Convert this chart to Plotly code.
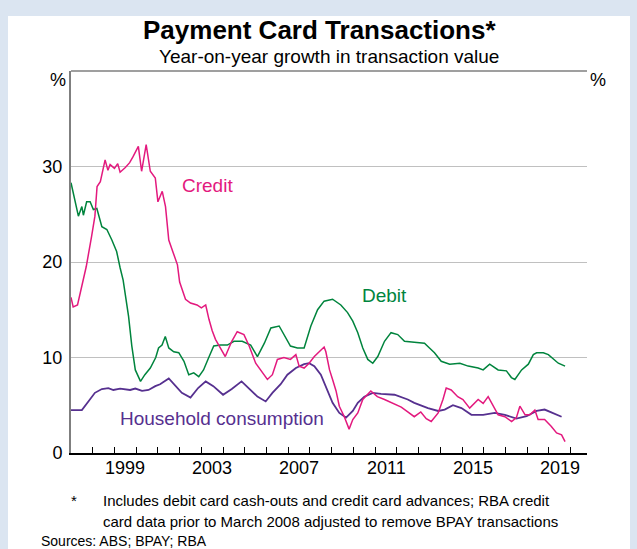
import plotly.graph_objects as go

# ---- data ----
credit_x = [1997.0, 1997.1, 1997.3, 1997.45, 1997.7, 1997.95, 1998.1, 1998.2, 1998.35, 1998.57,
            1998.7, 1998.8, 1999.0, 1999.15, 1999.26, 1999.5, 1999.7, 1999.85, 1999.95, 2000.1,
            2000.25, 2000.46, 2000.65, 2000.88, 2001.0, 2001.2, 2001.35, 2001.5, 2001.7, 2001.9,
            2002.0, 2002.27, 2002.5, 2002.8, 2003.0, 2003.2, 2003.35, 2003.5, 2003.65, 2003.88,
            2004.1, 2004.4, 2004.65, 2004.96, 2005.2, 2005.5, 2005.8, 2006.04, 2006.27, 2006.5,
            2006.8, 2007.1, 2007.35, 2007.5, 2007.73, 2007.96, 2008.2, 2008.5, 2008.65, 2008.73,
            2008.9, 2009.04, 2009.2, 2009.35, 2009.58, 2009.8, 2009.97, 2010.2, 2010.43, 2010.8,
            2011.1, 2011.43, 2011.9, 2012.2, 2012.5, 2012.8, 2013.1, 2013.35, 2013.58, 2013.9,
            2014.12, 2014.27, 2014.5, 2014.8, 2015.04, 2015.35, 2015.74, 2015.97, 2016.2, 2016.43,
            2016.66, 2016.97, 2017.28, 2017.5, 2017.66, 2017.9, 2018.12, 2018.35, 2018.5, 2018.8,
            2019.1, 2019.35, 2019.58, 2019.74]
credit_y = [16.3, 15.3, 15.5, 17.1, 19.5, 22.7, 24.8, 27.9, 28.4, 30.7,
            29.6, 30.2, 29.8, 30.3, 29.4, 29.9, 30.4, 31.0, 31.4, 32.1,
            29.5, 32.3, 29.5, 28.8, 26.3, 27.4, 25.8, 22.3, 21.0, 19.7,
            17.9, 16.1, 15.7, 15.5, 15.2, 15.5, 14.0, 12.8, 11.9, 11.0,
            10.1, 11.7, 12.7, 12.4, 11.2, 9.4, 8.4, 7.7, 8.2, 9.8,
            10.0, 9.8, 10.3, 9.1, 8.9, 9.4, 10.1, 10.8, 11.1, 10.6,
            8.7, 7.7, 6.5, 4.9, 3.8, 2.5, 3.5, 4.2, 5.6, 6.5,
            5.9, 5.6, 5.1, 4.8, 4.3, 3.8, 4.3, 3.6, 3.3, 4.2,
            5.6, 6.8, 6.6, 5.9, 5.6, 4.7, 5.6, 5.2, 5.9, 4.9,
            4.0, 3.8, 3.3, 3.7, 4.9, 4.0, 4.0, 4.5, 3.5, 3.5,
            2.8, 2.1, 1.9, 1.2]

debit_x = [1997.0, 1997.2, 1997.34, 1997.5, 1997.57, 1997.72, 1997.88, 1998.03, 1998.19, 1998.42,
           1998.65, 1998.88, 1999.1, 1999.26, 1999.4, 1999.65, 1999.8, 1999.96, 2000.2, 2000.4,
           2000.65, 2000.9, 2001.03, 2001.19, 2001.34, 2001.5, 2001.73, 2001.96, 2002.2, 2002.42,
           2002.65, 2002.88, 2003.1, 2003.34, 2003.57, 2003.88, 2004.2, 2004.5, 2004.88, 2005.27,
           2005.58, 2005.9, 2006.2, 2006.58, 2006.8, 2007.1, 2007.42, 2007.73, 2008.04, 2008.35,
           2008.65, 2009.04, 2009.42, 2009.73, 2009.97, 2010.2, 2010.43, 2010.66, 2010.89, 2011.12,
           2011.43, 2011.73, 2012.04, 2012.35, 2012.8, 2013.27, 2013.5, 2013.73, 2014.04, 2014.43,
           2014.9, 2015.28, 2015.74, 2015.97, 2016.27, 2016.66, 2017.04, 2017.27, 2017.43, 2017.74,
           2018.05, 2018.28, 2018.43, 2018.74, 2018.97, 2019.2, 2019.43, 2019.74]
debit_y = [28.3, 26.2, 24.8, 25.8, 24.9, 26.3, 26.3, 25.5, 25.6, 23.7,
           23.4, 22.3, 21.1, 19.4, 18.1, 14.3, 11.2, 8.7, 7.5, 8.2,
           8.9, 10.0, 11.0, 11.3, 12.2, 11.0, 10.6, 10.5, 9.6, 8.2,
           8.4, 8.0, 8.7, 10.0, 11.2, 11.3, 11.3, 11.7, 11.7, 11.3,
           10.1, 11.5, 13.1, 13.3, 12.4, 11.2, 11.0, 11.0, 13.3, 15.0,
           15.9, 16.1, 15.5, 14.7, 13.8, 12.6, 11.0, 9.8, 9.4, 10.1,
           11.7, 12.6, 12.4, 11.7, 11.6, 11.5, 11.0, 10.5, 9.6, 9.3,
           9.4, 9.1, 8.9, 8.7, 9.3, 8.7, 8.6, 7.9, 7.7, 8.7,
           9.3, 10.3, 10.5, 10.5, 10.3, 9.8, 9.4, 9.1]

house_x = [1997.0, 1997.5, 1997.8, 1998.1, 1998.42, 1998.72, 1998.95, 1999.26, 1999.72, 1999.96,
           2000.27, 2000.57, 2000.88, 2001.1, 2001.5, 2001.8, 2002.1, 2002.5, 2002.85, 2003.2,
           2003.55, 2004.0, 2004.4, 2004.85, 2005.15, 2005.58, 2005.96, 2006.27, 2006.65, 2006.96,
           2007.35, 2007.73, 2007.96, 2008.2, 2008.5, 2008.8, 2009.04, 2009.35, 2009.66, 2009.97,
           2010.2, 2010.5, 2010.89, 2011.27, 2011.89, 2012.5, 2012.8, 2013.43, 2013.9, 2014.2,
           2014.58, 2014.97, 2015.43, 2015.97, 2016.5, 2016.97, 2017.5, 2017.97, 2018.43, 2018.8,
           2019.2, 2019.58]
house_y = [4.5, 4.5, 5.4, 6.3, 6.7, 6.8, 6.6, 6.75, 6.6, 6.75,
           6.5, 6.6, 7.0, 7.2, 7.8, 7.0, 6.3, 5.8, 6.8, 7.5,
           7.0, 6.1, 6.7, 7.5, 6.8, 5.9, 5.4, 6.3, 7.2, 8.2,
           8.9, 9.3, 9.4, 9.1, 8.2, 6.6, 5.25, 4.2, 3.7, 4.4,
           5.25, 5.9, 6.3, 6.2, 6.1, 5.6, 5.25, 4.7, 4.4, 4.55,
           5.0, 4.7, 4.0, 4.0, 4.2, 4.0, 3.6, 3.85, 4.4, 4.55,
           4.2, 3.8]

year_ticks = list(range(1997, 2021))
year_labels = ["1999", "2003", "2007", "2011", "2015", "2019"]
year_label_pos = [1999.5, 2003.5, 2007.5, 2011.5, 2015.5, 2019.5]
y_ticks = [0, 10, 20, 30]

CREDIT = "#e3197e"
DEBIT = "#00843d"
HOUSE = "#56308f"
FONT = "Liberation Sans, Arial, sans-serif"
BG = "#dbe5f1"
XRANGE = [1997, 2020.75]

fig = go.Figure()
fig.add_trace(go.Scatter(x=house_x, y=house_y, mode="lines",
                         line=dict(color=HOUSE, width=1.8), name="Household consumption"))
fig.add_trace(go.Scatter(x=debit_x, y=debit_y, mode="lines",
                         line=dict(color=DEBIT, width=1.5), name="Debit"))
fig.add_trace(go.Scatter(x=credit_x, y=credit_y, mode="lines",
                         line=dict(color=CREDIT, width=1.5), name="Credit"))

fig.update_layout(
    width=637, height=549,
    margin=dict(l=71, r=50, t=71, b=96),
    paper_bgcolor=BG, plot_bgcolor="white",
    showlegend=False,
    font=dict(family=FONT, color="black", size=18),
    xaxis=dict(range=XRANGE, tickmode="array", tickvals=year_ticks,
               showticklabels=False, ticks="inside", ticklen=6, tickwidth=1,
               tickcolor="black", showgrid=False, zeroline=False,
               showline=True, linecolor="black", linewidth=1.5),
    yaxis=dict(range=[0, 40], tickmode="array", tickvals=y_ticks, ticks="",
               showgrid=True, gridcolor="#c0c0c0", gridwidth=1, zeroline=False,
               showline=True, linecolor="#7f7f7f", linewidth=2,
               tickfont=dict(size=18), ticklabelstandoff=3),
    yaxis2=dict(range=[0, 40], overlaying="y", side="right", tickmode="array",
                tickvals=y_ticks, ticks="", showgrid=False, zeroline=False,
                showline=True, linecolor="#7f7f7f", linewidth=2,
                tickfont=dict(size=18), ticklabelstandoff=2),
)

shapes = [
    dict(type="rect", xref="paper", yref="paper", x0=(8 - 71) / 516, x1=(630 - 71) / 516,
         y0=-0.4, y1=(453 - 16) / 382, fillcolor="white", line=dict(width=0), layer="below"),
    dict(type="line", xref="paper", yref="paper", x0=0, x1=1, y0=1, y1=1,
         line=dict(color="#7f7f7f", width=1.5)),
]
fig.update_layout(shapes=shapes)

ann = [
    dict(text="<b>Payment Card Transactions*</b>", xref="paper", yref="paper",
         x=(319 - 71) / 516, y=(453 - 30) / 382, showarrow=False, font=dict(size=26),
         xanchor="center", yanchor="middle"),
    dict(text="Year-on-year growth in transaction value", xref="paper", yref="paper",
         x=(329 - 71) / 516, y=(453 - 57) / 382, showarrow=False, font=dict(size=19),
         xanchor="center", yanchor="middle"),
    dict(text="%", xref="paper", yref="paper", x=(58 - 71) / 516, y=(453 - 80) / 382,
         showarrow=False, font=dict(size=18), xanchor="center", yanchor="middle"),
    dict(text="%", xref="paper", yref="paper", x=(598 - 71) / 516, y=(453 - 80) / 382,
         showarrow=False, font=dict(size=18), xanchor="center", yanchor="middle"),
    dict(text="Credit", x=2003.28, y=28.0, showarrow=False, font=dict(size=19, color=CREDIT)),
    dict(text="Debit", x=2011.41, y=16.5, showarrow=False, font=dict(size=19, color=DEBIT)),
    dict(text="Household consumption", x=2003.97, y=3.6, showarrow=False,
         font=dict(size=19, color=HOUSE)),
    dict(text="*", xref="paper", yref="paper", x=(74 - 71) / 516, y=(453 - 500) / 382,
         showarrow=False, font=dict(size=15), xanchor="center", yanchor="middle"),
    dict(text="Includes debit card cash-outs and credit card advances; RBA credit",
         xref="paper", yref="paper", x=(101 - 71) / 516, y=(453 - 500) / 382,
         showarrow=False, font=dict(size=15), xanchor="left", yanchor="middle"),
    dict(text="card data prior to March 2008 adjusted to remove BPAY transactions",
         xref="paper", yref="paper", x=(101 - 71) / 516, y=(453 - 521) / 382,
         showarrow=False, font=dict(size=15), xanchor="left", yanchor="middle"),
    dict(text="Sources: ABS; BPAY; RBA", xref="paper", yref="paper",
         x=(39 - 71) / 516, y=(453 - 541) / 382,
         showarrow=False, font=dict(size=14), xanchor="left", yanchor="middle"),
]
# year labels centred between the yearly tick marks
for lab, pos in zip(year_labels, year_label_pos):
    ann.append(dict(text=lab, x=pos, xref="x", y=(453 - 468) / 382, yref="paper",
                    showarrow=False, font=dict(size=18), xanchor="center", yanchor="middle"))
fig.update_layout(annotations=ann)

fig.write_html("out.html", config={"displayModeBar": False},
               post_script="document.body.style.margin='0';"
                           "document.body.style.background='#dbe5f1';")
